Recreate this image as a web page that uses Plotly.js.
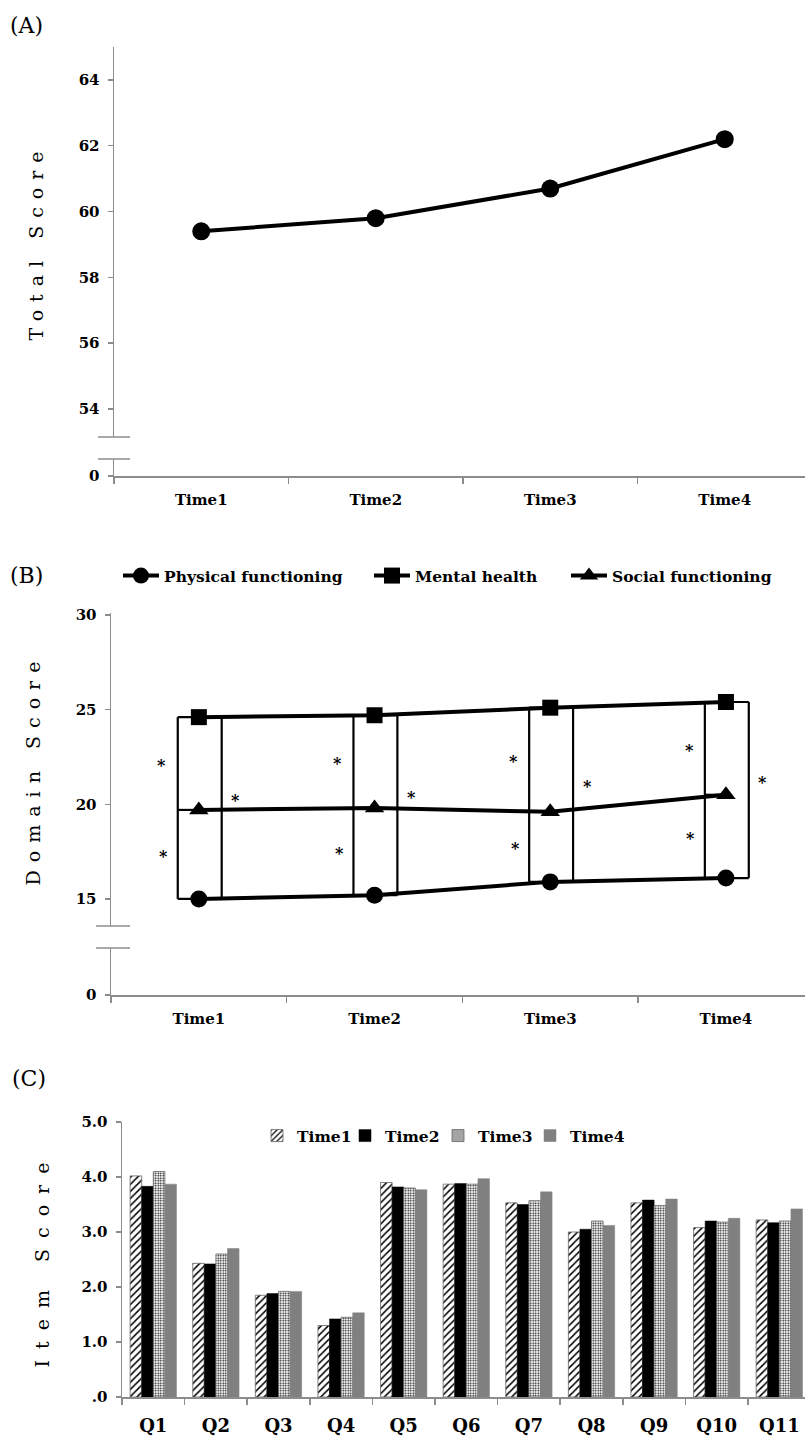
<!DOCTYPE html>
<html>
<head>
<meta charset="utf-8">
<script src="https://cdn.plot.ly/plotly-3.0.1.min.js"></script>
<style>
  html, body { margin: 0; padding: 0; background: #fff; }
  #chart { width: 805px; height: 1443px; }
  .ytitle { letter-spacing: 8px; }
  .y3title { letter-spacing: 8px; }
  .y5title { letter-spacing: 11px; }
</style>
</head>
<body>
<div id="chart"></div>
<script>
// ---------------- data ----------------
const times = ['Time1', 'Time2', 'Time3', 'Time4'];
const totalScore = [59.4, 59.8, 60.7, 62.2];

const physicalFunctioning = [15.0, 15.2, 15.9, 16.1];
const mentalHealth = [24.6, 24.7, 25.1, 25.4];
const socialFunctioning = [19.7, 19.8, 19.6, 20.5];

const items = ['Q1', 'Q2', 'Q3', 'Q4', 'Q5', 'Q6', 'Q7', 'Q8', 'Q9', 'Q10', 'Q11'];
const itemTime1 = [4.02, 2.43, 1.85, 1.30, 3.90, 3.87, 3.53, 3.00, 3.53, 3.08, 3.22];
const itemTime2 = [3.83, 2.42, 1.88, 1.42, 3.82, 3.88, 3.50, 3.05, 3.58, 3.20, 3.17];
const itemTime3 = [4.10, 2.60, 1.92, 1.45, 3.80, 3.87, 3.57, 3.20, 3.48, 3.18, 3.20];
const itemTime4 = [3.87, 2.70, 1.92, 1.53, 3.77, 3.97, 3.73, 3.12, 3.60, 3.25, 3.42];

const itemTickVals = [0, 1, 2, 3, 4, 5];
const itemTickText = ['.0', '1.0', '2.0', '3.0', '4.0', '5.0'];

// ---------------- geometry helpers ----------------
const W = 805, H = 1443;
const px = v => v / W;
const py = v => 1 - v / H;

const FONT = 'DejaVu Serif, Liberation Serif, serif';
const AXC = '#8c8c8c';
const f = (size, weight) => ({family: FONT, size: size, color: '#000', weight: weight || 'bold'});

function yAx(topPx, botPx, range, extra) {
  return Object.assign({
    domain: [py(botPx), py(topPx)],
    range: range,
    showline: true, linecolor: AXC, linewidth: 1.5,
    ticks: 'outside', ticklen: 5, tickcolor: AXC, tickwidth: 1.5,
    showgrid: false, zeroline: false,
    tickfont: f(15),
    ticklabelstandoff: 5,
    fixedrange: true
  }, extra);
}
function xAx(leftPx, range, anchor, extra) {
  return Object.assign({
    domain: [px(leftPx), 1],
    range: range,
    type: 'category',
    anchor: anchor,
    showline: true, linecolor: AXC, linewidth: 1.5,
    ticks: 'outside', ticklen: 6, tickcolor: AXC, tickwidth: 1.5,
    tickson: 'boundaries',
    showgrid: false, zeroline: false,
    tickfont: f(15),
    ticklabelstandoff: 9,
    fixedrange: true
  }, extra);
}

// ---------------- traces ----------------
const traces = [];

// Panel A
traces.push({
  x: times, y: totalScore, xaxis: 'x', yaxis: 'y',
  type: 'scatter', mode: 'lines+markers', showlegend: false,
  line: {color: '#000', width: 4},
  marker: {symbol: 'circle', size: 18, color: '#000'}
});
// empty trace that ties the lower (broken) axis segment to the x axis
traces.push({x: times, y: times.map(() => null), xaxis: 'x', yaxis: 'y2',
  type: 'scatter', mode: 'lines', showlegend: false, hoverinfo: 'skip'});

// Panel B (each series gets its own legend box so the entries sit where they do in the figure)
const bSeries = [
  {name: 'Physical functioning', y: physicalFunctioning, symbol: 'circle', size: 17, legend: 'legend'},
  {name: 'Mental health', y: mentalHealth, symbol: 'square', size: 16, legend: 'legend3'},
  {name: 'Social functioning', y: socialFunctioning, symbol: 'triangle-up', size: 17, legend: 'legend4'}
];
bSeries.forEach(s => traces.push({
  x: times, y: s.y, name: s.name, xaxis: 'x2', yaxis: 'y3',
  type: 'scatter', mode: 'lines+markers', legend: s.legend,
  line: {color: '#000', width: 4},
  marker: {symbol: s.symbol, size: s.size, color: '#000'}
}));
traces.push({x: times, y: times.map(() => null), xaxis: 'x2', yaxis: 'y4',
  type: 'scatter', mode: 'lines', showlegend: false, hoverinfo: 'skip'});

// Panel C
const cSeries = [
  {name: 'Time1', y: itemTime1, legend: 'legend2', marker: {color: '#fff', line: {color: '#666', width: 0.8},
    pattern: {shape: '/', fgcolor: '#000', bgcolor: '#fff', size: 5, solidity: 0.3}}},
  {name: 'Time2', y: itemTime2, legend: 'legend5', marker: {color: '#000', line: {color: '#000', width: 0.5}}},
  {name: 'Time3', y: itemTime3, legend: 'legend6', marker: {color: '#fff', line: {color: '#666', width: 0.8},
    pattern: {shape: '.', fgcolor: '#000', bgcolor: '#fff', size: 2.5, solidity: 0.35}}},
  {name: 'Time4', y: itemTime4, legend: 'legend7', marker: {color: '#808080', line: {color: '#808080', width: 0.5}}}
];
cSeries.forEach(s => traces.push({
  x: items, y: s.y, name: s.name, xaxis: 'x3', yaxis: 'y5',
  type: 'bar', legend: s.legend, marker: s.marker
}));

// ---------------- brackets & asterisks (panel B) ----------------
const shapes = [];
const annotations = [];
const LEFT = -0.12, RIGHT = 0.13;
function seg(x0, y0, x1, y1) {
  shapes.push({type: 'line', xref: 'x2', yref: 'y3', x0: x0, y0: y0, x1: x1, y1: y1,
    line: {color: '#000', width: 2.2}, layer: 'below'});
}
function star(x, y, yshift) {
  annotations.push({xref: 'x2', yref: 'y3', x: x, y: y, text: '*', showarrow: false,
    yshift: yshift || 0, font: f(16)});
}
times.forEach((t, i) => {
  const m = mentalHealth[i], s = socialFunctioning[i], p = physicalFunctioning[i];
  const lx = i + LEFT, rx = i + RIGHT;
  seg(lx, m, rx, m);
  seg(lx, s, i, s);
  seg(lx, p, rx, p);
  seg(lx, m, lx, p);
  seg(rx, m, rx, p);
  star(i - 0.21, (m + s) / 2, -2);
  star(i - 0.20, (s + p) / 2, -2);
  star(i + 0.21, (m + p) / 2, 8);
});

// axis break marks
function breakMark(x0, x1, yPx) {
  shapes.push({type: 'line', xref: 'paper', yref: 'paper', x0: px(x0), x1: px(x1),
    y0: py(yPx), y1: py(yPx), line: {color: AXC, width: 1.5}});
}
breakMark(98, 130, 437); breakMark(98, 130, 459);
breakMark(96, 130, 926); breakMark(96, 130, 948);

// panel labels
[['(A)', 8, 25], ['(B)', 8, 575], ['(C)', 10, 1078]].forEach(l => annotations.push({
  xref: 'paper', yref: 'paper', x: px(l[1]), y: py(l[2]), xanchor: 'left', yanchor: 'middle',
  text: l[0], showarrow: false, font: f(22, 'normal')
}));

const titleFont = f(19, 'normal');
const legB = (xPx) => ({orientation: 'h', x: px(xPx), y: py(559), xanchor: 'left', yanchor: 'top',
  font: f(15.5), itemwidth: 36, bgcolor: 'rgba(0,0,0,0)'});
const legC = (xPx) => ({orientation: 'h', x: px(xPx), y: py(1119), xanchor: 'left', yanchor: 'top',
  font: f(15.5), itemwidth: 30, bgcolor: 'rgba(0,0,0,0)'});

const layout = {
  width: W, height: H, autosize: false,
  margin: {l: 0, r: 0, t: 0, b: 0},
  paper_bgcolor: '#fff', plot_bgcolor: 'rgba(0,0,0,0)',
  font: {family: FONT, color: '#000'},
  barmode: 'group', bargap: 0.26, bargroupgap: 0,
  // Panel A
  xaxis: xAx(114, [-0.5, 3.46], 'y2'),
  yaxis: yAx(47, 437, [53.15, 65.0], {anchor: 'x', dtick: 2, tick0: 0,
    title: {text: 'Total Score', font: titleFont, standoff: 30}}),
  yaxis2: yAx(459, 476, [0, 1], {anchor: 'x', tickvals: [0]}),
  // Panel B
  xaxis2: xAx(111, [-0.5, 3.45], 'y4'),
  yaxis3: yAx(613, 926, [13.57, 30.1], {anchor: 'x2', dtick: 5, tick0: 0,
    title: {text: 'Domain Score', font: titleFont, standoff: 30}}),
  yaxis4: yAx(948, 995, [0, 1], {anchor: 'x2', tickvals: [0]}),
  // Panel C
  xaxis3: xAx(122, [-0.5, 10.41], 'y5', {tickfont: f(18), ticklabelstandoff: 12}),
  yaxis5: yAx(1122, 1397, [0, 5.0], {anchor: 'x3', tickvals: itemTickVals, ticktext: itemTickText,
    title: {text: 'Item Score', font: titleFont, standoff: 26}}),
  legend: legB(118),
  legend3: legB(369),
  legend4: legB(566),
  legend2: legC(257),
  legend5: legC(345),
  legend6: legC(438),
  legend7: legC(530),
  shapes: shapes,
  annotations: annotations
};

Plotly.newPlot('chart', traces, layout, {displayModeBar: false, staticPlot: true});
</script>
</body>
</html>
